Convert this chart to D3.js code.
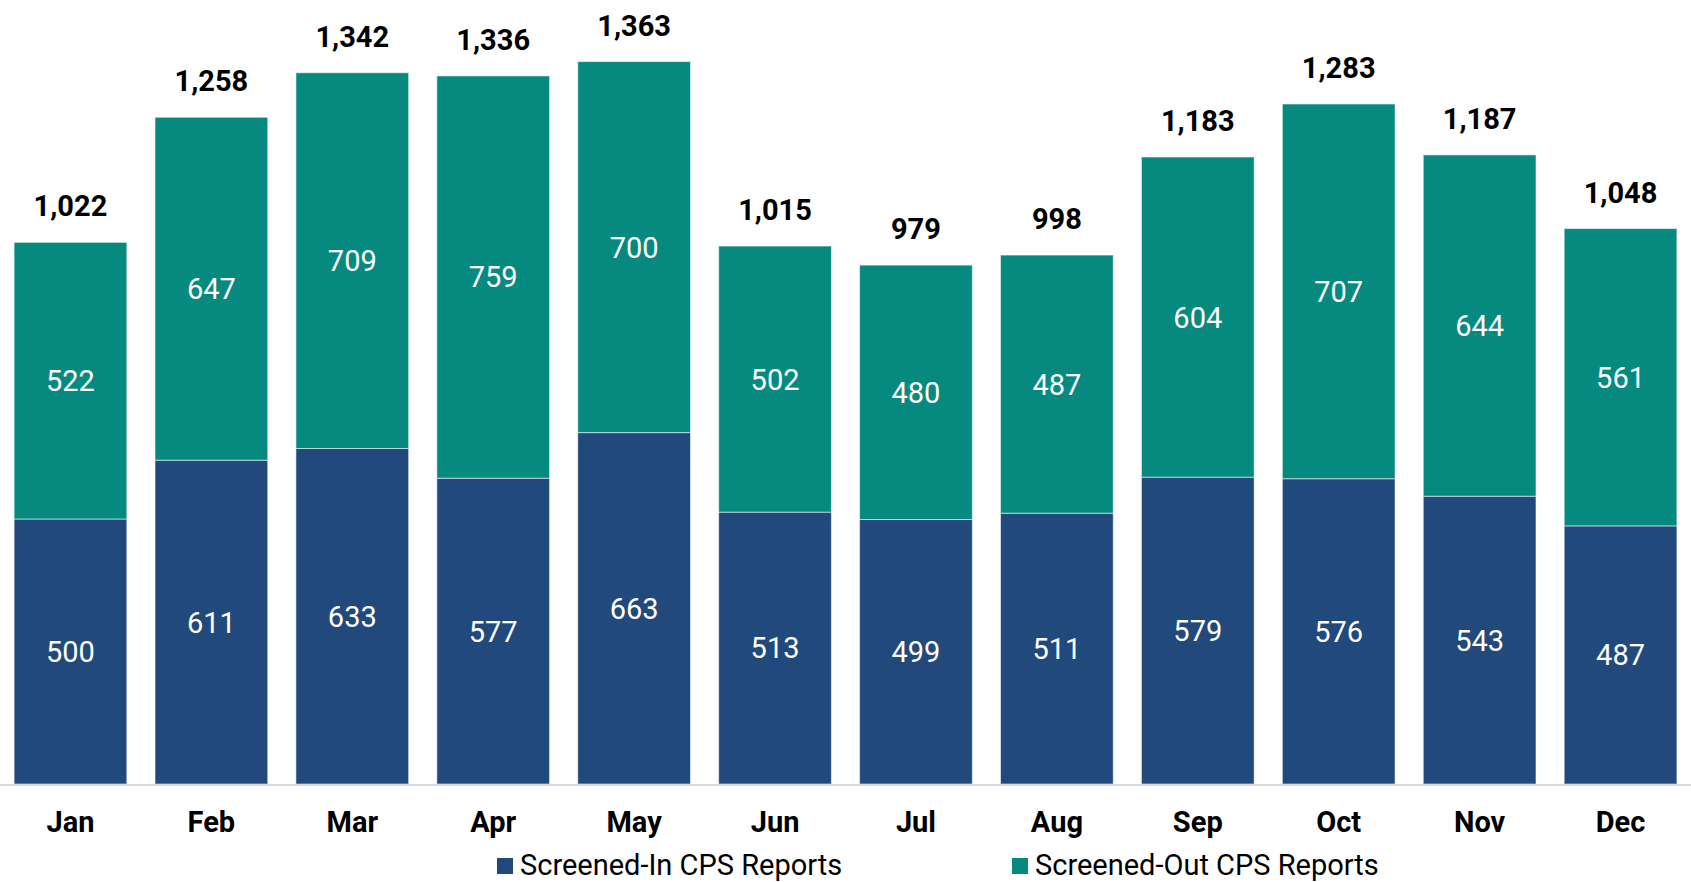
<!DOCTYPE html>
<html>
<head>
<meta charset="utf-8">
<script src="https://cdn.jsdelivr.net/npm/d3@7"></script>
<style>
  html, body { margin: 0; padding: 0; background: #ffffff; }
  svg { display: block; font-family: Roboto, "Noto Sans", sans-serif; }
</style>
</head>
<body>
<div class="chart"></div>
<script>
// Data
var months = ["Jan", "Feb", "Mar", "Apr", "May", "Jun", "Jul", "Aug", "Sep", "Oct", "Nov", "Dec"];
var screenedIn = [500, 611, 633, 577, 663, 513, 499, 511, 579, 576, 543, 487];
var screenedOut = [522, 647, 709, 759, 700, 502, 480, 487, 604, 707, 644, 561];
var seriesNames = ["Screened-In CPS Reports", "Screened-Out CPS Reports"];
var seriesColors = ["#21497c", "#068a80"];

var svgWidth = 1691;
var svgHeight = 882;
var baseline = 784;

var svg = d3.select(".chart")
  .append("svg")
  .attr("width", svgWidth)
  .attr("height", svgHeight);

// table for the stack layout
var table = months.map(function(m, i) {
  return { month: m, inn: screenedIn[i], out: screenedOut[i] };
});

var stacked = d3.stack().keys(["inn", "out"])(table);

// Scales
var xScale = d3.scaleBand()
  .domain(months)
  .range([0, svgWidth])
  .paddingInner(0.2)
  .paddingOuter(0.1);

var yScale = d3.scaleLinear()
  .domain([0, 1400])
  .range([baseline, 42]);

// Bars
var layers = svg.selectAll("g.layer")
  .data(stacked)
  .enter()
  .append("g")
  .attr("class", "layer")
  .attr("fill", (d, i) => seriesColors[i]);

layers.selectAll("rect")
  .data(d => d)
  .enter()
  .append("rect")
  .attr("x", d => xScale(d.data.month))
  .attr("y", d => yScale(d[1]))
  .attr("width", xScale.bandwidth())
  .attr("height", d => yScale(d[0]) - yScale(d[1]))
  .attr("stroke", "rgba(255,255,255,0.55)")
  .attr("stroke-width", 1);

// Segment labels
layers.selectAll("text")
  .data(d => d)
  .enter()
  .append("text")
  .attr("x", d => xScale(d.data.month) + xScale.bandwidth() / 2)
  .attr("y", d => (yScale(d[0]) + yScale(d[1])) / 2)
  .attr("dy", "0.36em")
  .attr("text-anchor", "middle")
  .attr("fill", "#ffffff")
  .attr("font-size", "29px")
  .text(d => d3.format(",")(d[1] - d[0]));

// Totals
svg.selectAll("text.total")
  .data(table)
  .enter()
  .append("text")
  .attr("class", "total")
  .attr("x", d => xScale(d.month) + xScale.bandwidth() / 2)
  .attr("y", d => yScale(d.inn + d.out) - 26)
  .attr("text-anchor", "middle")
  .attr("fill", "#000000")
  .attr("font-size", "29px")
  .attr("font-weight", "bold")
  .text(d => d3.format(",")(d.inn + d.out));

// X axis
var xAxis = d3.axisBottom(xScale).tickSize(0).tickPadding(0);
var axisG = svg.append("g")
  .attr("transform", `translate(0, ${baseline})`)
  .call(xAxis);

axisG.select(".domain")
  .attr("d", `M0,1H${svgWidth}`)
  .attr("stroke", "#d9d9d9")
  .attr("stroke-width", 2);

axisG.selectAll(".tick text")
  .attr("y", 48)
  .attr("dy", 0)
  .attr("fill", "#000000")
  .attr("font-size", "29px")
  .attr("font-weight", "bold")
  .attr("font-family", "Roboto, sans-serif");

// Legend
var legendX = [497, 1012];
var legend = svg.selectAll("g.legend")
  .data(seriesNames)
  .enter()
  .append("g")
  .attr("class", "legend")
  .attr("transform", (d, i) => `translate(${legendX[i]}, 858)`);

legend.append("rect")
  .attr("width", 16)
  .attr("height", 16)
  .attr("fill", (d, i) => seriesColors[i]);

legend.append("text")
  .attr("x", 23)
  .attr("y", 17)
  .attr("fill", "#000000")
  .attr("font-size", "29px")
  .text(d => d);
</script>
</body>
</html>
